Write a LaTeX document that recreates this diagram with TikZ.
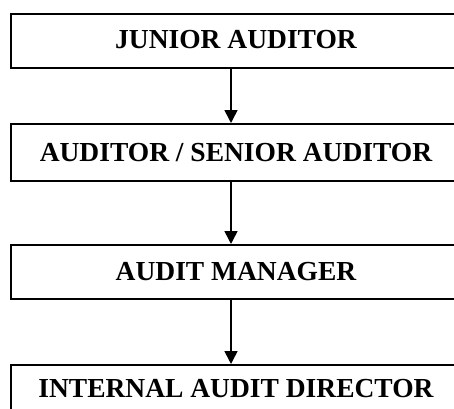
\documentclass[tikz,border=0pt]{standalone}
\usepackage{fontspec}
\setmainfont{Liberation Serif}
\usetikzlibrary{arrows.meta}

\tikzset{
	rank/.style={draw, line width=2pt, minimum width=451pt, inner sep=0pt,
		font=\bfseries\fontsize{27.5}{30}\selectfont},
	promote/.style={line width=1.6pt, -{Triangle[length=13pt,width=13pt]}}
}

\begin{document}
\begin{tikzpicture}[x=1pt, y=1pt]
			\def\W{454};
			\def\H{408};
			\def\xC{236};
			\def\xA{-5};

			\useasboundingbox (0,0) rectangle (\W,\H);

			\begin{scope}
				\node[rank, minimum height=54pt] (junior) at (\xC,367) {\raisebox{4pt}{JUNIOR AUDITOR}};
				\node[rank, minimum height=57pt] (senior) at (\xC,255.5) {AUDITOR / SENIOR AUDITOR};
				\node[rank, minimum height=54pt] (manager) at (\xC,136) {AUDIT MANAGER};
				\node[rank, minimum height=48pt] (director) at (\xC,19) {INTERNAL AUDIT DIRECTOR};
			\end{scope}

			\begin{scope}[promote]
				\draw ([xshift=\xA]junior.south) -- ([xshift=\xA]senior.north);
				\draw ([xshift=\xA]senior.south) -- ([xshift=\xA]manager.north);
				\draw ([xshift=\xA]manager.south) -- ([xshift=\xA]director.north);
			\end{scope}
		\end{tikzpicture}
\end{document}
